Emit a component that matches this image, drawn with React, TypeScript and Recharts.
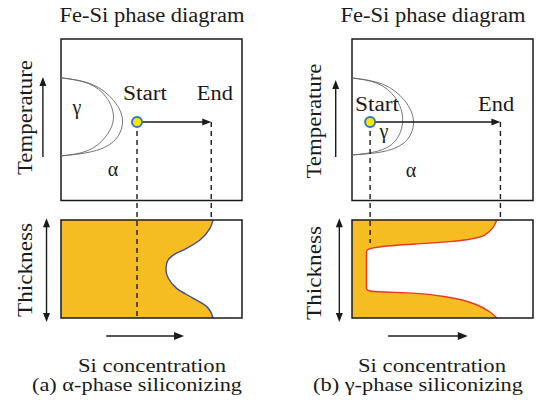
import React from 'react';
import { ComposedChart, XAxis, YAxis, Area, Line, ReferenceLine, ReferenceDot, ReferenceArea } from 'recharts';

// ---------- data (x = Si concentration 0..100, t = temperature 0..100, h = thickness 0..100) ----------
const leftGammaInner = [
  { c: 0, t: 76 }, { c: 15, t: 72.5 }, { c: 25, t: 64 }, { c: 29, t: 51.7 }, { c: 25, t: 40 }, { c: 15, t: 31 }, { c: 0, t: 27.6 },
];
const leftGammaOuter = [
  { c: 0, t: 76 }, { c: 17, t: 72 }, { c: 29, t: 62 }, { c: 34, t: 49.2 }, { c: 29, t: 36.5 }, { c: 16, t: 30 }, { c: 0, t: 27.6 },
];
const rightGammaInner = [
  { c: 0, t: 75.9 }, { c: 14, t: 72.5 }, { c: 24, t: 63.5 }, { c: 28, t: 50 }, { c: 24, t: 37 }, { c: 14, t: 30.5 }, { c: 0, t: 28.2 },
];
const rightGammaOuter = [
  { c: 0, t: 75.9 }, { c: 17, t: 72 }, { c: 29, t: 62 }, { c: 34, t: 48.6 }, { c: 29, t: 36 }, { c: 16, t: 30 }, { c: 0, t: 28.2 },
];
const leftProfile = [
  { c: 84, h: 100 }, { c: 82.3, h: 91.6 }, { c: 76.8, h: 79.7 }, { c: 69.4, h: 71.2 }, { c: 62, h: 64.3 }, { c: 58.4, h: 55.9 },
  { c: 58, h: 48.8 }, { c: 59.3, h: 40.6 }, { c: 63.9, h: 30.3 }, { c: 73.1, h: 20.1 }, { c: 80.5, h: 11.6 }, { c: 84, h: 0 },
];
const rightProfile = [
  { c: 80, h: 100 }, { c: 73.5, h: 85 }, { c: 54, h: 78 }, { c: 35, h: 75.6 }, { c: 17, h: 73 }, { c: 9, h: 70 }, { c: 8, h: 68 },
  { c: 8, h: 30 }, { c: 10, h: 27.6 }, { c: 35, h: 25.2 }, { c: 54, h: 21 }, { c: 69, h: 13.3 }, { c: 76, h: 6.4 }, { c: 80, h: 0 },
];
const leftPath = { startC: 42, endC: 83, t: 48.6, startDashToH: 2 };
const rightPath = { startC: 10, endC: 82, t: 48.6, startDashToH: 76.6 };
const leftNotes = [
  { text: 'Start', c: 46.4, t: 62.2, len: 44 }, { text: 'End', c: 85, t: 62.2, len: 36 },
  { text: 'γ', c: 8.8, t: 53.5, len: 0 }, { text: 'α', c: 28.7, t: 15.2, len: 0 },
];
const rightNotes = [
  { text: 'Start', c: 13.8, t: 55.4, len: 44 }, { text: 'End', c: 79.6, t: 55.4, len: 36 },
  { text: 'γ', c: 17.7, t: 38.7, len: 0 }, { text: 'α', c: 32.6, t: 14.6, len: 0 },
];
const titleText = 'Fe-Si phase diagram';
const xAxisText = 'Si concentration';
const tempText = 'Temperature';
const thickText = 'Thickness';

// ---------- shared vertical scale: thickness box 0..100, temperature box mapped to 120..285 ----------
const Y_MAX = 285;
const ty = (t: number) => 120 + t * 1.65;
const FONT = 'Liberation Serif';
const INK = '#1a1a1a';
const FILL = '#F6BD22';

const toXY = (arr: { c: number; t?: number; h?: number }[]) =>
  arr.map((p) => ({ x: p.c, y: p.t !== undefined ? ty(p.t) : (p.h as number) }));

const arrowShape = (both: boolean, hl = 9, hw = 4) => (p: any) => {
  const { x1, y1, x2, y2 } = p;
  const dx = x2 - x1, dy = y2 - y1;
  const L = Math.sqrt(dx * dx + dy * dy) || 1;
  const ux = dx / L, uy = dy / L;
  const head = (tx: number, ty2: number, sx: number, sy: number) => {
    const bx = tx - sx * hl, by = ty2 - sy * hl;
    return `${tx},${ty2} ${bx - sy * hw},${by + sx * hw} ${bx + sy * hw},${by - sx * hw}`;
  };
  return (
    <g>
      <line x1={both ? x1 + ux * hl * 0.8 : x1} y1={both ? y1 + uy * hl * 0.8 : y1} x2={x2 - ux * hl * 0.8} y2={y2 - uy * hl * 0.8} stroke={INK} strokeWidth={1.4} />
      <polygon points={head(x2, y2, ux, uy)} fill={INK} />
      {both && <polygon points={head(x1, y1, -ux, -uy)} fill={INK} />}
    </g>
  );
};

const noteShape = (text: string, len: number) => (p: any) => (
  <text x={p.cx} y={p.cy} textAnchor="middle" fontFamily={FONT} fontSize={20} fill={INK}
    {...(len ? { textLength: len, lengthAdjust: 'spacingAndGlyphs' } : {})}>{text}</text>
);

type PanelProps = {
  left: number; ml: number; mr: number;
  inner: any[]; outer: any[]; profile: any[]; curveColor: string;
  path: { startC: number; endC: number; t: number; startDashToH: number };
  notes: { text: string; c: number; t: number; len: number }[];
  tempArrowC: number; tempArrowT: [number, number]; thickArrowC: number; siArrow: [number, number];
  titleX: number; siX: number; capX: number; caption: string; axisLabelX: number;
  tempY: number; thickY: number;
};

function Panel(p: PanelProps) {
  const W = 268, H = 410;
  const dash = '5 4';
  return (
    <div style={{ position: 'absolute', left: p.left, top: 0, width: W, height: H }}>
      <ComposedChart layout="vertical" width={W} height={H} margin={{ top: 39, right: p.mr, bottom: 92, left: p.ml }}>
        <XAxis type="number" domain={[0, 100]} hide />
        <YAxis type="number" dataKey="y" domain={[0, Y_MAX]} reversed hide />
        <Area data={toXY(p.profile)} dataKey="x" type="monotone" fill={FILL} fillOpacity={1} stroke={p.curveColor} strokeWidth={1.4} isAnimationActive={false} dot={false} activeDot={false} />
        <Line data={toXY(p.inner)} dataKey="x" type="natural" stroke="#666" strokeWidth={0.9} dot={false} activeDot={false} isAnimationActive={false} />
        <Line data={toXY(p.outer)} dataKey="x" type="natural" stroke="#666" strokeWidth={0.9} dot={false} activeDot={false} isAnimationActive={false} />
        <ReferenceArea x1={0} x2={100} y1={ty(0)} y2={ty(100)} fill="none" stroke={INK} strokeWidth={1.5} ifOverflow="visible" />
        <ReferenceArea x1={0} x2={100} y1={0} y2={100} fill="none" stroke={INK} strokeWidth={1.5} ifOverflow="visible" />
        <ReferenceLine segment={[{ x: p.path.startC, y: ty(p.path.t) }, { x: p.path.startC, y: p.path.startDashToH }]} stroke={INK} strokeWidth={1.4} strokeDasharray={dash} ifOverflow="visible" />
        <ReferenceLine segment={[{ x: p.path.endC, y: ty(p.path.t) }, { x: p.path.endC, y: 100 }]} stroke={INK} strokeWidth={1.4} strokeDasharray={dash} ifOverflow="visible" />
        <ReferenceLine segment={[{ x: p.path.startC, y: ty(p.path.t) }, { x: p.path.endC, y: ty(p.path.t) }]} shape={arrowShape(false, 9, 3.5)} ifOverflow="visible" />
        <ReferenceLine segment={[{ x: p.tempArrowC, y: ty(p.tempArrowT[0]) }, { x: p.tempArrowC, y: ty(p.tempArrowT[1]) }]} shape={arrowShape(false, 9, 3.5)} ifOverflow="visible" />
        <ReferenceLine segment={[{ x: p.thickArrowC, y: -4 }, { x: p.thickArrowC, y: 102 }]} shape={arrowShape(true, 9, 3.5)} ifOverflow="visible" />
        <ReferenceLine segment={[{ x: p.siArrow[0], y: -18.4 }, { x: p.siArrow[1], y: -18.4 }]} shape={arrowShape(false, 10, 4)} ifOverflow="visible" />
        <ReferenceDot x={p.path.startC} y={ty(p.path.t)} r={5} fill="#FFE600" stroke="#2F7BBF" strokeWidth={2} ifOverflow="visible" />
        {p.notes.map((n) => (
          <ReferenceDot key={n.text} x={n.c} y={ty(n.t)} r={0} ifOverflow="visible" shape={noteShape(n.text, n.len)} />
        ))}
        <text x={p.titleX} y={22} textAnchor="middle" fontFamily={FONT} fontSize={20} fill={INK} textLength={185} lengthAdjust="spacingAndGlyphs">{titleText}</text>
        <text x={p.siX} y={372} textAnchor="middle" fontFamily={FONT} fontSize={19.5} fill={INK} textLength={148} lengthAdjust="spacingAndGlyphs">{xAxisText}</text>
        <text x={p.capX} y={391} textAnchor="middle" fontFamily={FONT} fontSize={19.5} fill={INK} textLength={210} lengthAdjust="spacingAndGlyphs">{p.caption}</text>
        <text x={p.axisLabelX} y={p.tempY} textAnchor="middle" fontFamily={FONT} fontSize={20} fill={INK} textLength={115} lengthAdjust="spacingAndGlyphs" transform={`rotate(-90, ${p.axisLabelX}, ${p.tempY})`}>{tempText}</text>
        <text x={p.axisLabelX} y={p.thickY} textAnchor="middle" fontFamily={FONT} fontSize={20} fill={INK} textLength={94} lengthAdjust="spacingAndGlyphs" transform={`rotate(-90, ${p.axisLabelX}, ${p.thickY})`}>{thickText}</text>
      </ComposedChart>
    </div>
  );
}

export default function App() {
  return (
    <div style={{ position: 'absolute', left: 0, top: 0, width: 536, height: 410, background: '#fff', overflow: 'hidden' }}>
      <Panel left={0} ml={61} mr={26} inner={leftGammaInner} outer={leftGammaOuter} profile={leftProfile} curveColor="#3A4FA3"
        path={leftPath} notes={leftNotes} tempArrowC={-10} tempArrowT={[27, 76.5]} thickArrowC={-8} siArrow={[25, 68]}
        titleX={152} siX={152} capX={137} caption="(a) α-phase siliconizing" axisLabelX={32} tempY={117.5} thickY={270} />
      <Panel left={268} ml={84} mr={3} inner={rightGammaInner} outer={rightGammaOuter} profile={rightProfile} curveColor="#E8382C"
        path={rightPath} notes={rightNotes} tempArrowC={-9} tempArrowT={[27, 74.6]} thickArrowC={-7} siArrow={[20, 64]}
        titleX={165} siX={164} capX={150} caption="(b) γ-phase siliconizing" axisLabelX={53} tempY={121} thickY={273} />
    </div>
  );
}
